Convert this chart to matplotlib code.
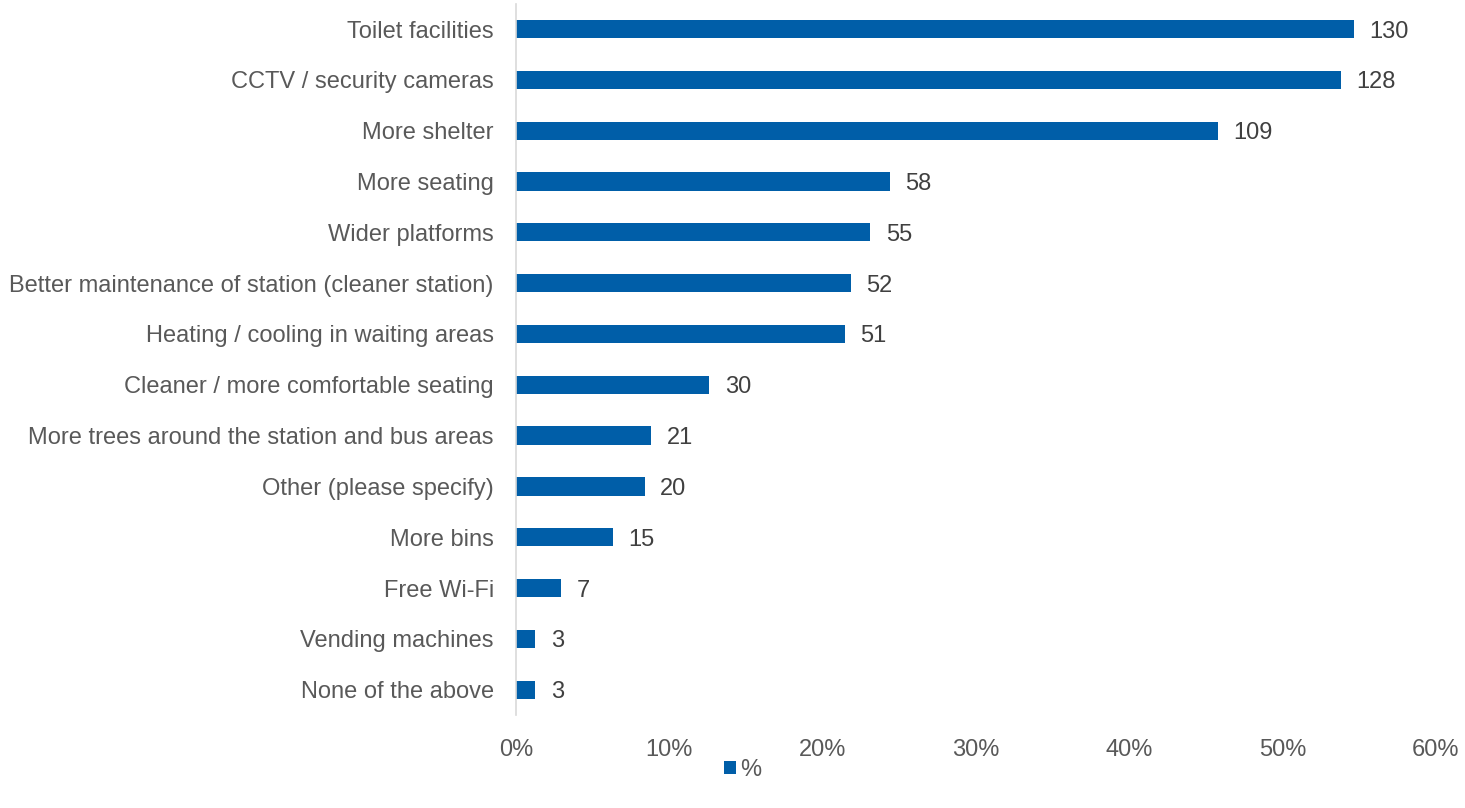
import matplotlib
matplotlib.use("Agg")
import matplotlib.pyplot as plt
from matplotlib.ticker import PercentFormatter

plt.rcParams['font.family'] = ['Liberation Sans', 'DejaVu Sans']

categories = [
    "Toilet facilities",
    "CCTV / security cameras",
    "More shelter",
    "More seating",
    "Wider platforms",
    "Better maintenance of station (cleaner station)",
    "Heating / cooling in waiting areas",
    "Cleaner / more comfortable seating",
    "More trees around the station and bus areas",
    "Other (please specify)",
    "More bins",
    "Free Wi-Fi",
    "Vending machines",
    "None of the above",
]
counts = [130, 128, 109, 58, 55, 52, 51, 30, 21, 20, 15, 7, 3, 3]
respondents = 238
xticks = [0, 10, 20, 30, 40, 50, 60]

percent = [c / respondents * 100 for c in counts]

bar_color = "#005EA8"
text_color = "#595959"

fig = plt.figure(figsize=(14.65, 8.08), dpi=100)
ax = fig.add_axes([0.3522, 0.115, 0.6280, 0.8805])

y = list(range(len(categories)))
bars = ax.barh(y, percent, height=0.36, color=bar_color, label="%")
ax.set_ylim(len(categories) - 0.5, -0.5)
ax.set_xlim(0, 60)
ax.set_xticks(xticks)
ax.xaxis.set_major_formatter(PercentFormatter(decimals=0))
ax.set_yticks(y)
ax.set_yticklabels(categories)

for b, c in zip(bars, counts):
    ax.text(b.get_width() + 1.0, b.get_y() + b.get_height() / 2, str(c),
            va="center_baseline", ha="left", fontsize=17, color="#404040")

for s in ["top", "right", "bottom"]:
    ax.spines[s].set_visible(False)
ax.spines["left"].set_color("#D9D9D9")
ax.spines["left"].set_linewidth(1.2)
ax.tick_params(axis="both", length=0, labelsize=17, colors=text_color)
ax.tick_params(axis="y", pad=16)
ax.tick_params(axis="x", pad=17)

fig.legend(handles=[bars], labels=["%"], loc="center", bbox_to_anchor=(0.507, 0.047),
           frameon=False, fontsize=17, handlelength=0.5, handleheight=0.5,
           handletextpad=0.2, labelcolor=text_color)

fig.savefig("out.png", dpi=100)
